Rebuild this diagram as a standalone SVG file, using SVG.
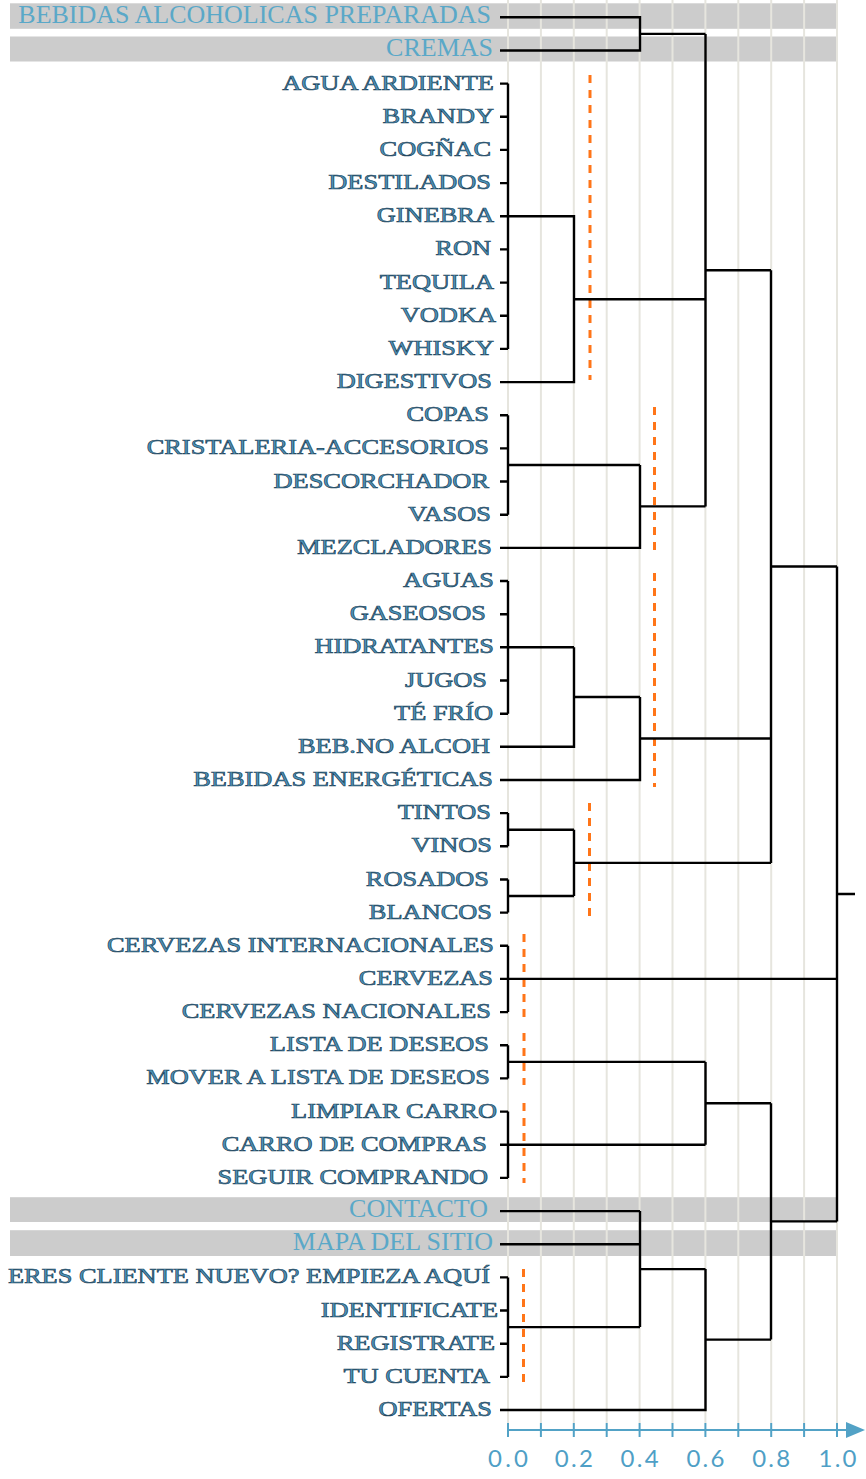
<svg xmlns="http://www.w3.org/2000/svg" width="866" height="1479" viewBox="0 0 866 1479">
  <style>
    .band { fill: #cccccc; }
    .grid { stroke: #e6e5de; stroke-width: 2; }
    .link { fill: none; stroke: #000000; stroke-width: 2.4; stroke-linejoin: miter; stroke-linecap: butt; }
    .cut { fill: none; stroke: #ff7518; stroke-width: 3; stroke-dasharray: 8 7; }
    .lbl { font-family: "Liberation Serif", "Times New Roman", serif; font-size: 26.4px; text-anchor: end; fill: #4b95bc; stroke: #22435a; stroke-width: 0.8px; }
    .hl { font-family: "Liberation Serif", "Times New Roman", serif; font-size: 26px; text-anchor: end; fill: #5aa8c8; }
    .axis { fill: none; stroke: #52a2c6; stroke-width: 2; }
    .tick-lbl { font-family: Lato, "Liberation Sans", sans-serif; font-weight: 400; font-size: 24px; text-anchor: middle; fill: #4f9fc6; }
  </style>
  <defs>
    <marker id="axis-arrow" viewBox="0 0 19 16" refX="0" refY="8" markerWidth="19" markerHeight="16" markerUnits="userSpaceOnUse" orient="auto">
      <path d="M0 0 L19 8 L0 16 Z" fill="#52a2c6"/>
    </marker>
  </defs>

  <rect width="866" height="1479" fill="#ffffff"/>

  <!-- highlighted rows -->
  <g id="bands">
    <rect class="band" x="10" y="3.3" width="827" height="25.5"/>
    <rect class="band" x="10" y="36.5" width="827" height="25"/>
    <rect class="band" x="10" y="1197.2" width="827" height="24.8"/>
    <rect class="band" x="10" y="1230.2" width="827" height="25.8"/>
  </g>

  <!-- distance grid, one line per 0.1 -->
  <g id="grid">
    <line class="grid" x1="508" y1="0" x2="508" y2="1423"/>
    <line class="grid" x1="540.9" y1="0" x2="540.9" y2="1423"/>
    <line class="grid" x1="573.8" y1="0" x2="573.8" y2="1423"/>
    <line class="grid" x1="606.7" y1="0" x2="606.7" y2="1423"/>
    <line class="grid" x1="639.6" y1="0" x2="639.6" y2="1423"/>
    <line class="grid" x1="672.5" y1="0" x2="672.5" y2="1423"/>
    <line class="grid" x1="705.4" y1="0" x2="705.4" y2="1423"/>
    <line class="grid" x1="738.3" y1="0" x2="738.3" y2="1423"/>
    <line class="grid" x1="771.2" y1="0" x2="771.2" y2="1423"/>
    <line class="grid" x1="804.1" y1="0" x2="804.1" y2="1423"/>
    <line class="grid" x1="837" y1="0" x2="837" y2="1423"/>
  </g>

  <!-- cut lines -->
  <g id="cuts">
    <line class="cut" x1="590" y1="75" x2="590" y2="380"/>
    <line class="cut" x1="654.5" y1="407" x2="654.5" y2="553"/>
    <line class="cut" x1="654.5" y1="573" x2="654.5" y2="787"/>
    <line class="cut" x1="589.5" y1="803" x2="589.5" y2="919"/>
    <line class="cut" x1="524" y1="934" x2="524" y2="1018"/>
    <line class="cut" x1="524" y1="1033" x2="524" y2="1085"/>
    <line class="cut" x1="524" y1="1103" x2="524" y2="1183"/>
    <line class="cut" x1="523.5" y1="1269" x2="523.5" y2="1383"/>
  </g>

  <!-- leaf labels -->
  <g id="node-bebidas-alcoholicas-preparadas"><text class="hl" transform="matrix(1 0 0 0.93 491 22.8)">BEBIDAS ALCOHOLICAS PREPARADAS</text></g>
  <g id="node-cremas"><text class="hl" transform="matrix(1 0 0 0.93 493 56)">CREMAS</text></g>
  <g id="node-agua-ardiente"><text class="lbl" transform="matrix(1 0 0 0.78 494 89.6)">AGUA ARDIENTE</text></g>
  <g id="node-brandy"><text class="lbl" transform="matrix(1 0 0 0.78 494 122.8)">BRANDY</text></g>
  <g id="node-cognac"><text class="lbl" transform="matrix(1 0 0 0.78 491 155.9)">COGÑAC</text></g>
  <g id="node-destilados"><text class="lbl" transform="matrix(1 0 0 0.78 491 189.1)">DESTILADOS</text></g>
  <g id="node-ginebra"><text class="lbl" transform="matrix(1 0 0 0.78 494 222.3)">GINEBRA</text></g>
  <g id="node-ron"><text class="lbl" transform="matrix(1 0 0 0.78 491 255.4)">RON</text></g>
  <g id="node-tequila"><text class="lbl" transform="matrix(1 0 0 0.78 494 288.6)">TEQUILA</text></g>
  <g id="node-vodka"><text class="lbl" transform="matrix(1 0 0 0.78 496 321.7)">VODKA</text></g>
  <g id="node-whisky"><text class="lbl" transform="matrix(1 0 0 0.78 494 354.9)">WHISKY</text></g>
  <g id="node-digestivos"><text class="lbl" transform="matrix(1 0 0 0.78 492 388.1)">DIGESTIVOS</text></g>
  <g id="node-copas"><text class="lbl" transform="matrix(1 0 0 0.78 489 421.2)">COPAS</text></g>
  <g id="node-cristaleria-accesorios"><text class="lbl" transform="matrix(1 0 0 0.78 489 454.4)">CRISTALERIA-ACCESORIOS</text></g>
  <g id="node-descorchador"><text class="lbl" transform="matrix(1 0 0 0.78 489 487.5)">DESCORCHADOR</text></g>
  <g id="node-vasos"><text class="lbl" transform="matrix(1 0 0 0.78 491 520.7)">VASOS</text></g>
  <g id="node-mezcladores"><text class="lbl" transform="matrix(1 0 0 0.78 492 553.9)">MEZCLADORES</text></g>
  <g id="node-aguas"><text class="lbl" transform="matrix(1 0 0 0.78 494 587)">AGUAS</text></g>
  <g id="node-gaseosos"><text class="lbl" transform="matrix(1 0 0 0.78 486 620.2)">GASEOSOS</text></g>
  <g id="node-hidratantes"><text class="lbl" transform="matrix(1 0 0 0.78 494 653.3)">HIDRATANTES</text></g>
  <g id="node-jugos"><text class="lbl" transform="matrix(1 0 0 0.78 487 686.5)">JUGOS</text></g>
  <g id="node-te-frio"><text class="lbl" transform="matrix(1 0 0 0.78 493 719.7)">TÉ FRÍO</text></g>
  <g id="node-beb-no-alcoh"><text class="lbl" transform="matrix(1 0 0 0.78 490 752.8)">BEB.NO ALCOH</text></g>
  <g id="node-bebidas-energeticas"><text class="lbl" transform="matrix(1 0 0 0.78 493 786)">BEBIDAS ENERGÉTICAS</text></g>
  <g id="node-tintos"><text class="lbl" transform="matrix(1 0 0 0.78 491 819.1)">TINTOS</text></g>
  <g id="node-vinos"><text class="lbl" transform="matrix(1 0 0 0.78 492 852.3)">VINOS</text></g>
  <g id="node-rosados"><text class="lbl" transform="matrix(1 0 0 0.78 489 885.5)">ROSADOS</text></g>
  <g id="node-blancos"><text class="lbl" transform="matrix(1 0 0 0.78 492 918.6)">BLANCOS</text></g>
  <g id="node-cervezas-internacionales"><text class="lbl" transform="matrix(1 0 0 0.78 494 951.8)">CERVEZAS INTERNACIONALES</text></g>
  <g id="node-cervezas"><text class="lbl" transform="matrix(1 0 0 0.78 493 984.9)">CERVEZAS</text></g>
  <g id="node-cervezas-nacionales"><text class="lbl" transform="matrix(1 0 0 0.78 491 1018.1)">CERVEZAS NACIONALES</text></g>
  <g id="node-lista-de-deseos"><text class="lbl" transform="matrix(1 0 0 0.78 489 1051.3)">LISTA DE DESEOS</text></g>
  <g id="node-mover-a-lista-de-deseos"><text class="lbl" transform="matrix(1 0 0 0.78 490 1084.4)">MOVER A LISTA DE DESEOS</text></g>
  <g id="node-limpiar-carro"><text class="lbl" transform="matrix(1 0 0 0.78 497 1117.6)">LIMPIAR CARRO</text></g>
  <g id="node-carro-de-compras"><text class="lbl" transform="matrix(1 0 0 0.78 487 1150.7)">CARRO DE COMPRAS</text></g>
  <g id="node-seguir-comprando"><text class="lbl" transform="matrix(1 0 0 0.78 488 1183.9)">SEGUIR COMPRANDO</text></g>
  <g id="node-contacto"><text class="hl" transform="matrix(1 0 0 0.93 488 1216.6)">CONTACTO</text></g>
  <g id="node-mapa-del-sitio"><text class="hl" transform="matrix(1 0 0 0.93 493 1249.7)">MAPA DEL SITIO</text></g>
  <g id="node-eres-cliente-nuevo"><text class="lbl" transform="matrix(1 0 0 0.78 490 1283.4)">ERES CLIENTE NUEVO? EMPIEZA AQUÍ</text></g>
  <g id="node-identificate"><text class="lbl" transform="matrix(1 0 0 0.78 498 1316.5)">IDENTIFICATE</text></g>
  <g id="node-registrate"><text class="lbl" transform="matrix(1 0 0 0.78 495 1349.7)">REGISTRATE</text></g>
  <g id="node-tu-cuenta"><text class="lbl" transform="matrix(1 0 0 0.78 490 1382.9)">TU CUENTA</text></g>
  <g id="node-ofertas"><text class="lbl" transform="matrix(1 0 0 0.78 492 1416)">OFERTAS</text></g>

  <!-- dendrogram links -->
  <g id="connectors">
    <!-- preparadas + cremas -->
    <path class="link" d="M500 17.3 H640 V50.5 H500 M640 33.9 H705.5"/>
    <!-- spirits -->
    <path class="link" d="M500 83.6 H508 M500 116.8 H508 M500 149.9 H508 M500 183.1 H508 M500 249.4 H508 M500 282.6 H508 M500 315.7 H508 M500 348.9 H508 M508 83.6 V348.9"/>
    <path class="link" d="M500 216.3 H574 V382.1 H500 M574 299.2 H705.5"/>
    <!-- glassware -->
    <path class="link" d="M500 415.2 H508 M500 448.4 H508 M500 481.5 H508 M500 514.7 H508 M508 415.2 V514.7 M508 465 H640"/>
    <path class="link" d="M500 547.9 H640 V465 M640 506.4 H705.5"/>
    <!-- merge at 0.6 -->
    <path class="link" d="M705.5 33.9 V506.4 M705.5 270.2 H771"/>
    <!-- soft drinks -->
    <path class="link" d="M500 581 H508 M500 614.2 H508 M500 680.5 H508 M500 713.7 H508 M508 581 V713.7 M500 647.3 H574"/>
    <path class="link" d="M500 746.8 H574 V647.3 M574 697 H640"/>
    <path class="link" d="M500 780 H640 V697 M640 738.5 H771"/>
    <!-- wines -->
    <path class="link" d="M500 813.1 H508 M500 846.3 H508 M508 813.1 V846.3 M508 829.7 H574"/>
    <path class="link" d="M500 879.5 H508 M500 912.6 H508 M508 879.5 V912.6 M508 896 H574"/>
    <path class="link" d="M574 829.7 V896 M574 862.9 H771"/>
    <!-- merge at 0.8 -->
    <path class="link" d="M771 270.2 V862.9 M771 566.5 H837"/>
    <!-- beers -->
    <path class="link" d="M500 945.8 H508 M500 1012.1 H508 M508 945.8 V1012.1 M500 978.9 H837"/>
    <!-- wish list + cart -->
    <path class="link" d="M500 1045.3 H508 M500 1078.4 H508 M508 1045.3 V1078.4 M508 1061.9 H705.5"/>
    <path class="link" d="M500 1111.6 H508 M500 1177.9 H508 M508 1111.6 V1177.9 M500 1144.7 H705.5"/>
    <path class="link" d="M705.5 1061.9 V1144.7 M705.5 1103.3 H771"/>
    <!-- site pages + account -->
    <path class="link" d="M500 1211.1 H640 M500 1244.2 H640"/>
    <path class="link" d="M500 1277.4 H508 M500 1310.5 H508 M500 1343.7 H508 M500 1376.9 H508 M508 1277.4 V1376.9 M508 1327.1 H640"/>
    <path class="link" d="M640 1211.1 V1327.1 M640 1269.1 H705.5"/>
    <path class="link" d="M500 1410 H705.5 V1269.1 M705.5 1339.6 H771"/>
    <path class="link" d="M771 1103.3 V1339.6 M771 1221.4 H837"/>
    <!-- root -->
    <path class="link" d="M837 566.5 V1221.4 M837 894 H855"/>
  </g>

  <!-- distance axis -->
  <g id="axis">
    <line class="axis" x1="508" y1="1430" x2="846" y2="1430" marker-end="url(#axis-arrow)"/>
    <path class="axis" d="M508 1423 V1437 M540.9 1423 V1437 M573.8 1423 V1437 M606.7 1423 V1437 M639.6 1423 V1437 M672.5 1423 V1437 M705.4 1423 V1437 M738.3 1423 V1437 M771.2 1423 V1437 M804.1 1423 V1437 M837 1423 V1437"/>
    <text class="tick-lbl" x="508" y="1467" textLength="40" lengthAdjust="spacing">0.0</text>
    <text class="tick-lbl" x="573.8" y="1467" textLength="38" lengthAdjust="spacing">0.2</text>
    <text class="tick-lbl" x="639.6" y="1467" textLength="38" lengthAdjust="spacing">0.4</text>
    <text class="tick-lbl" x="705.4" y="1467" textLength="38" lengthAdjust="spacing">0.6</text>
    <text class="tick-lbl" x="771.2" y="1467" textLength="38" lengthAdjust="spacing">0.8</text>
    <text class="tick-lbl" x="837.5" y="1467" textLength="38" lengthAdjust="spacing">1.0</text>
  </g>
</svg>
